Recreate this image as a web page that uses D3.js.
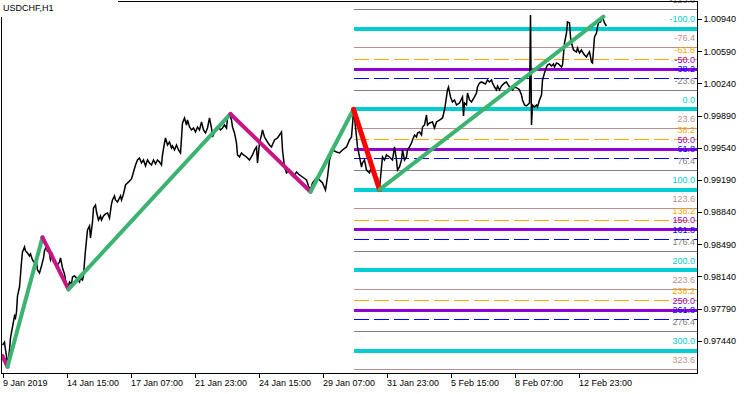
<!DOCTYPE html>
<html>
<head>
<meta charset="utf-8">
<script src="https://cdn.jsdelivr.net/npm/d3@7"></script>
<style>
  body { margin: 0; background: #fff; }
  svg text { font-family: "Liberation Sans", Arial, sans-serif; font-size: 9px; }
</style>
</head>
<body>
<svg id="chart" width="750" height="394"></svg>
<script>
/* global d3 */
// values
var symbolTitle = 'USDCHF,H1'
var timeTickBars = [0, 64, 128, 192, 256, 320, 384, 448, 512, 576]
var timeLabels = ['9 Jan 2019', '14 Jan 15:00', '17 Jan 07:00', '21 Jan 23:00', '24 Jan 15:00',
    '29 Jan 07:00', '31 Jan 23:00', '5 Feb 15:00', '8 Feb 07:00', '12 Feb 23:00']
var priceTicks = [1.00940, 1.00590, 1.00240, 0.99890, 0.99540, 0.99190, 0.98840, 0.98490, 0.98140, 0.97790, 0.97440]

// H1 close line (bar number, close)
var closeBars = [0, 2, 3, 4, 5, 7, 8, 10, 12, 13, 14, 15, 17, 18, 19, 20, 22, 23, 25, 27, 28, 30, 32, 33, 34, 35, 37, 39,
    41, 42, 44, 45, 46, 48, 50, 51, 53, 55, 57, 58, 60, 62, 63, 64, 66, 67, 69, 70, 72, 74, 75, 77, 78, 80, 81, 82, 83,
    84, 85, 87, 88, 90, 91, 93, 94, 96, 98, 99, 101, 103, 105, 107, 109, 110, 112, 113, 115, 117, 118, 119, 121, 123,
    125, 127, 129, 131, 133, 135, 137, 139, 141, 143, 145, 147, 149, 151, 153, 155, 157, 159, 160, 162, 163, 165, 167,
    169, 170, 172, 174, 176, 178, 180, 182, 184, 185, 187, 189, 191, 193, 195, 197, 199, 201, 203, 205, 207, 209, 210,
    212, 214, 216, 218, 220, 222, 224, 225, 227, 229, 230, 232, 234, 235, 237, 239, 241, 244, 247, 250, 252, 254, 255,
    257, 259, 260, 262, 265, 267, 269, 272, 275, 277, 279, 280, 282, 284, 287, 289, 291, 294, 297, 300, 304, 306, 308,
    310, 314, 317, 320, 323, 325, 327, 330, 334, 337, 340, 344, 347, 349, 351, 352, 353, 354, 355, 357, 359, 360, 362,
    364, 367, 369, 370, 372, 374, 375, 376, 377, 379, 380, 382, 384, 387, 390, 392, 394, 395, 397, 399, 400, 402, 404,
    405, 407, 409, 410, 412, 414, 415, 417, 419, 420, 422, 424, 425, 427, 430, 432, 434, 437, 440, 442, 444, 445, 446,
    448, 450, 452, 454, 457, 460, 461, 462, 464, 465, 467, 469, 472, 474, 475, 477, 479, 481, 483, 485, 487, 489, 490,
    492, 494, 495, 497, 499, 500, 502, 504, 505, 507, 509, 510, 512, 514, 516, 517, 519, 520, 522, 524, 526, 527, 528,
    529, 530, 532, 534, 535, 537, 539, 540, 542, 544, 545, 547, 549, 551, 552, 554, 556, 557, 559, 560, 562, 564, 565,
    567, 568, 569, 571, 574, 575, 577, 579, 580, 582, 584, 585, 587, 589, 590, 591, 592, 594, 595, 596, 598, 600, 601,
    602, 604]
var closePrices = [0.97393, 0.97426, 0.97339, 0.97274, 0.97165, 0.97339, 0.97470, 0.97589, 0.97709, 0.97687, 0.97752,
    0.97927, 0.98024, 0.98155, 0.98296, 0.98405, 0.98460, 0.98416, 0.98394, 0.98362, 0.98384, 0.98318, 0.98286, 0.98253,
    0.98296, 0.98209, 0.98177, 0.98253, 0.98340, 0.98416, 0.98471, 0.98405, 0.98449, 0.98318, 0.98373, 0.98296, 0.98286,
    0.98264, 0.98296, 0.98340, 0.98231, 0.98166, 0.98101, 0.98057, 0.98035, 0.98079, 0.98057, 0.98133, 0.98144, 0.98122,
    0.98101, 0.98079, 0.98122, 0.98101, 0.98144, 0.98296, 0.98427, 0.98536, 0.98645, 0.98688, 0.98558, 0.98732, 0.98884,
    0.98917, 0.98840, 0.98753, 0.98797, 0.98753, 0.98797, 0.98819, 0.98830, 0.98775, 0.98928, 0.98971, 0.99015, 0.98971,
    0.98949, 0.98993, 0.99015, 0.98971, 0.99036, 0.99134, 0.99156, 0.99178, 0.99200, 0.99276, 0.99352, 0.99406, 0.99428,
    0.99374, 0.99406, 0.99341, 0.99406, 0.99374, 0.99352, 0.99406, 0.99363, 0.99406, 0.99384, 0.99352, 0.99461, 0.99591,
    0.99646, 0.99569, 0.99602, 0.99537, 0.99559, 0.99515, 0.99569, 0.99515, 0.99482, 0.99809, 0.99863, 0.99787, 0.99841,
    0.99765, 0.99733, 0.99754, 0.99711, 0.99765, 0.99733, 0.99820, 0.99733, 0.99700, 0.99754, 0.99863, 0.99754, 0.99656,
    0.99711, 0.99733, 0.99765, 0.99733, 0.99754, 0.99787, 0.99754, 0.99863, 0.99907, 0.99841, 0.99765, 0.99700, 0.99591,
    0.99461, 0.99439, 0.99482, 0.99461, 0.99439, 0.99406, 0.99461, 0.99515, 0.99548, 0.99374, 0.99591, 0.99678, 0.99733,
    0.99656, 0.99602, 0.99569, 0.99548, 0.99624, 0.99646, 0.99678, 0.99711, 0.99515, 0.99330, 0.99265, 0.99297, 0.99243,
    0.99221, 0.99276, 0.99243, 0.99221, 0.99189, 0.99123, 0.99080, 0.99156, 0.99210, 0.99189, 0.99156, 0.99080, 0.99221,
    0.99406, 0.99515, 0.99493, 0.99482, 0.99515, 0.99548, 0.99624, 0.99656, 0.99928, 0.99863, 0.99765, 0.99656, 0.99548,
    0.99439, 0.99330, 0.99374, 0.99406, 0.99297, 0.99265, 0.99330, 0.99265, 0.99221, 0.99189, 0.99221, 0.99112, 0.99091,
    0.99330, 0.99439, 0.99406, 0.99461, 0.99439, 0.99406, 0.99548, 0.99406, 0.99297, 0.99330, 0.99406, 0.99515, 0.99406,
    0.99439, 0.99515, 0.99548, 0.99591, 0.99624, 0.99678, 0.99656, 0.99700, 0.99711, 0.99678, 0.99765, 0.99787, 0.99896,
    0.99787, 0.99809, 0.99820, 0.99754, 0.99820, 0.99841, 0.99863, 0.99950, 1.00092, 1.00168, 1.00200, 1.00092, 1.00037,
    1.00059, 1.00005, 1.00026, 1.00092, 0.99885, 1.00026, 1.00005, 1.00135, 1.00059, 1.00037, 1.00092, 1.00135, 1.00200,
    1.00244, 1.00255, 1.00244, 1.00233, 1.00277, 1.00255, 1.00277, 1.00244, 1.00200, 1.00168, 1.00211, 1.00168, 1.00211,
    1.00222, 1.00244, 1.00255, 1.00233, 1.00200, 1.00179, 1.00168, 1.00200, 1.00190, 1.00179, 1.00168, 1.00113, 1.00059,
    1.00005, 0.99994, 1.00016, 1.00026, 1.00984, 0.99787, 1.00005, 0.99983, 1.00005, 0.99983, 1.00059, 1.00113, 1.00277,
    1.00353, 1.00418, 1.00440, 1.00451, 1.00429, 1.00451, 1.00418, 1.00462, 1.00451, 1.00440, 1.00418, 1.00440, 1.00679,
    1.00788, 1.00908, 1.00897, 1.00744, 1.00679, 1.00603, 1.00581, 1.00625, 1.00570, 1.00603, 1.00581, 1.00549, 1.00527,
    1.00549, 1.00581, 1.00472, 1.00462, 1.00603, 1.00744, 1.00788, 1.00853, 1.00897, 1.00908, 1.00951, 1.00929, 1.00897,
    1.00864]

// zigzag turning points
var zigzagBars = [0, 5, 40, 66, 228, 308, 351, 377, 601]
var zigzagPrices = [0.97274, 0.97157, 0.98565, 0.97999, 0.99907, 0.99061, 0.99958, 0.99083, 1.00965]

// fibonacci retracement / expansion drawn on the last down leg
var fibStartBar = 351
var fibEndBar = 377
var fibHigh = 0.99958
var fibLow = 0.99083
var fibLevels = [-123.6, -100, -76.4, -61.8, -50, -38.2, -23.6, 0, 23.6, 38.2, 50, 61.8, 76.4, 100,
    123.6, 138.2, 150, 161.8, 176.4, 200, 223.6, 238.2, 250, 261.8, 276.4, 300, 323.6]

var svg = d3.select('#chart')
var plot = { left: 2, top: 2, right: 697, bottom: 373 }

var xScale = d3.scaleLinear().domain([0, 694]).range([2.5, 696.5])
var yScale = d3.scaleLinear().domain([0.97440, 1.00940]).range([340.7, 19])

svg.append('defs').append('clipPath').attr('id', 'plotClip')
    .append('rect')
    .attr('x', plot.left).attr('y', 0)
    .attr('width', plot.right - plot.left).attr('height', plot.bottom)

var g = svg.append('g').attr('clip-path', 'url(#plotClip)')

// level look, repeats every 100
var fibStyle = {
    '0': { color: '#00CED1', width: 4 },
    '23.6': { color: '#BC8F8F', width: 1 },
    '38.2': { color: '#FFA500', width: 1, dash: '15,5' },
    '50': { color: '#9400D3', width: 3 },
    '61.8': { color: '#0000FF', width: 1, dash: '15,5' },
    '76.4': { color: '#808080', width: 1 }
}
var styleOf = function(level) {
    var r = Math.round((((level % 100) + 100) % 100) * 10) / 10
    return fibStyle[String(r)]
}
var snap = function(v, w) {
    return w % 2 ? Math.floor(v) + 0.5 : Math.round(v)
}
var fibPrice = function(level) {
    return fibHigh - level / 100 * (fibHigh - fibLow)
}

var fibX0 = xScale(fibStartBar)

g.selectAll('line.fib')
    .data(fibLevels)
    .enter()
    .append('line')
    .attr('class', 'fib')
    .attr('x1', fibX0)
    .attr('x2', plot.right)
    .attr('y1', (d) => snap(yScale(fibPrice(d)), styleOf(d).width))
    .attr('y2', (d) => snap(yScale(fibPrice(d)), styleOf(d).width))
    .attr('stroke', (d) => styleOf(d).color)
    .attr('stroke-width', (d) => styleOf(d).width)
    .attr('stroke-dasharray', (d) => styleOf(d).dash || null)
    .attr('shape-rendering', 'crispEdges')

// price line
var closeData = closeBars.map((b, i) => [b, closePrices[i]])
var line = d3.line()
    .x((d) => xScale(d[0]))
    .y((d) => yScale(d[1]))

g.append('path')
    .datum(closeData)
    .attr('d', line)
    .attr('fill', 'none')
    .attr('stroke', '#000')
    .attr('stroke-width', 1.5)
    .attr('stroke-linejoin', 'miter')

// zigzag legs
var legs = []
for (var k = 0; k < zigzagBars.length - 1; k++) {
    var a = [zigzagBars[k], zigzagPrices[k]]
    var b = [zigzagBars[k + 1], zigzagPrices[k + 1]]
    var col = b[1] > a[1] ? '#3CB371' : '#C71585'
    if (a[0] === fibStartBar && b[0] === fibEndBar) col = '#FF0000'
    legs.push({ pts: [a, b], color: col })
}
g.selectAll('path.leg')
    .data(legs)
    .enter()
    .append('path')
    .attr('class', 'leg')
    .attr('d', (d) => line(d.pts))
    .attr('fill', 'none')
    .attr('stroke', (d) => d.color)
    .attr('stroke-width', (d) => d.color === '#FF0000' ? 5 : 4)
    .attr('stroke-linecap', 'round')

// level captions
g.selectAll('text.fibLabel')
    .data(fibLevels)
    .enter()
    .append('text')
    .attr('class', 'fibLabel')
    .attr('x', 695)
    .attr('y', (d) => yScale(fibPrice(d)) - 6.5)
    .attr('text-anchor', 'end')
    .attr('fill', (d) => styleOf(d).color)
    .text((d) => d.toFixed(1))

// frame
svg.append('rect')
    .attr('x', 1.5).attr('y', 1.5)
    .attr('width', plot.right - 1).attr('height', plot.bottom - 1)
    .attr('fill', 'none')
    .attr('stroke', '#000')
    .attr('shape-rendering', 'crispEdges')

// title
svg.append('rect').attr('x', 0).attr('y', 0).attr('width', 118).attr('height', 17).attr('fill', '#fff')
svg.append('text')
    .attr('x', 3).attr('y', 11)
    .attr('fill', '#000')
    .text(symbolTitle)

// axes
var yAxis = d3.axisRight(yScale)
    .tickValues(priceTicks)
    .tickFormat(d3.format('.5f'))
    .tickSize(4)
    .tickPadding(2)
var yg = svg.append('g')
    .attr('transform', 'translate(' + (plot.right + 0.5) + ',0)')
    .call(yAxis)
yg.select('.domain').remove()
yg.selectAll('line').attr('shape-rendering', 'crispEdges')
yg.selectAll('text').style('font-size', '9px').attr('fill', '#000')

var xAxis = d3.axisBottom(xScale)
    .tickValues(timeTickBars)
    .tickFormat((d, i) => timeLabels[i])
    .tickSize(4)
    .tickPadding(2)
var xg = svg.append('g')
    .attr('transform', 'translate(0,' + (plot.bottom + 0.5) + ')')
    .call(xAxis)
xg.select('.domain').remove()
xg.selectAll('line').attr('shape-rendering', 'crispEdges')
xg.selectAll('text').attr('text-anchor', 'start').style('font-size', '9px').attr('fill', '#000')
</script>
</body>
</html>
